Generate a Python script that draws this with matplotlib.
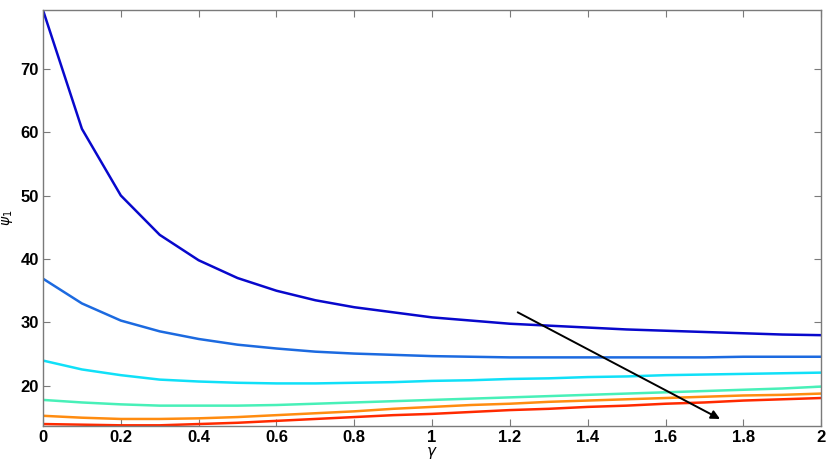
import matplotlib
matplotlib.use("Agg")
import matplotlib.pyplot as plt

gamma = [0.0, 0.1, 0.2, 0.3, 0.4, 0.5, 0.6, 0.7, 0.8, 0.9, 1.0,
         1.1, 1.2, 1.3, 1.4, 1.5, 1.6, 1.7, 1.8, 1.9, 2.0]

psi_a = [79.2, 60.5, 50.0, 43.8, 39.8, 37.0, 35.0, 33.5, 32.4, 31.6, 30.8,
         30.3, 29.8, 29.5, 29.2, 28.9, 28.7, 28.5, 28.3, 28.1, 28.0]
psi_b = [36.9, 33.0, 30.3, 28.6, 27.4, 26.5, 25.9, 25.4, 25.1, 24.9, 24.7,
         24.6, 24.5, 24.5, 24.5, 24.5, 24.5, 24.5, 24.6, 24.6, 24.6]
psi_c = [24.0, 22.6, 21.7, 21.0, 20.7, 20.5, 20.4, 20.4, 20.5, 20.6, 20.8,
         20.9, 21.1, 21.2, 21.4, 21.5, 21.7, 21.8, 21.9, 22.0, 22.1]
psi_d = [17.8, 17.4, 17.1, 16.9, 16.9, 16.9, 17.0, 17.2, 17.4, 17.6, 17.8,
         18.0, 18.2, 18.4, 18.6, 18.8, 19.0, 19.2, 19.4, 19.6, 19.9]
psi_e = [15.3, 15.0, 14.8, 14.8, 14.9, 15.1, 15.4, 15.7, 16.0, 16.4, 16.7,
         17.0, 17.2, 17.5, 17.7, 17.9, 18.1, 18.3, 18.5, 18.6, 18.8]
psi_f = [14.0, 13.9, 13.8, 13.8, 14.0, 14.2, 14.5, 14.8, 15.1, 15.4, 15.6,
         15.9, 16.2, 16.4, 16.7, 16.9, 17.2, 17.4, 17.7, 17.9, 18.1]

series = [psi_a, psi_b, psi_c, psi_d, psi_e, psi_f]
colors = ["#0808cc", "#1c6ae0", "#10e0f8", "#48f0b8", "#ff8c10", "#ff2a00"]

x_ticks = [0, 0.2, 0.4, 0.6, 0.8, 1, 1.2, 1.4, 1.6, 1.8, 2]
x_ticklabels = ["0", "0.2", "0.4", "0.6", "0.8", "1", "1.2", "1.4", "1.6", "1.8", "2"]
y_ticks = [20, 30, 40, 50, 60, 70]

# arrow (start -> end) in data coords
arrow_start = (1.22, 31.6)
arrow_end = (1.74, 14.8)

plt.rcParams["font.family"] = ["Liberation Sans", "DejaVu Sans"]

fig = plt.figure(figsize=(8.27, 4.61), dpi=100)
ax = fig.add_axes([0.052, 0.077, 0.941, 0.901])

for ys, c in zip(series, colors):
    ax.plot(gamma, ys, color=c, lw=1.8)

ax.annotate("", xy=arrow_end, xytext=arrow_start,
            arrowprops=dict(arrowstyle="-|>", color="black", lw=1.4,
                            mutation_scale=13, shrinkA=0, shrinkB=0))

ax.set_xlim(0, 2)
ax.set_ylim(13.77, 79.2)
ax.set_xticks(x_ticks)
ax.set_xticklabels(x_ticklabels)
ax.set_yticks(y_ticks)

for s in ax.spines.values():
    s.set_color("#7a7a7a")
    s.set_linewidth(1.0)
ax.tick_params(direction="in", top=True, right=True, length=5,
               color="#7a7a7a", labelsize=12, pad=3)
for lab in ax.get_xticklabels() + ax.get_yticklabels():
    lab.set_fontweight("bold")

ax.set_xlabel(r"$\gamma$", fontsize=11, labelpad=0)
ax.set_ylabel(r"$\psi_1$", fontsize=10, labelpad=4)

fig.savefig("out.png", dpi=100)
